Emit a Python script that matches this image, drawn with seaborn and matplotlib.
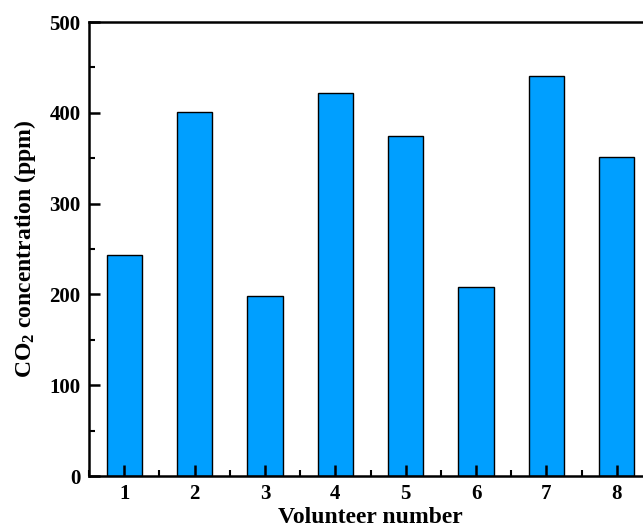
import matplotlib
matplotlib.use("Agg")
import matplotlib.pyplot as plt
import seaborn as sns
import pandas as pd
from matplotlib.ticker import MultipleLocator, FixedLocator

volunteers = ["1", "2", "3", "4", "5", "6", "7", "8"]
co2_ppm = [243, 401, 198, 422, 375, 208, 440, 351]

sns.set_theme(style="ticks")
plt.rcParams["font.family"] = ["Liberation Serif", "DejaVu Serif"]
plt.rcParams["font.weight"] = "bold"
plt.rcParams["text.color"] = "black"
plt.rcParams["axes.labelcolor"] = "black"
plt.rcParams["mathtext.fontset"] = "custom"
plt.rcParams["mathtext.rm"] = "Liberation Serif:bold"
plt.rcParams["mathtext.bf"] = "Liberation Serif:bold"
plt.rcParams["mathtext.default"] = "rm"

df = pd.DataFrame({"volunteer": volunteers, "co2": co2_ppm})

fig = plt.figure(figsize=(6.43, 5.32), dpi=100)
ax = fig.add_axes([89 / 643, 56 / 532, 563 / 643, 454 / 532])

sns.barplot(data=df, x="volunteer", y="co2", color="#009FFF", saturation=1,
            width=0.5, edgecolor="black", linewidth=1.0, ax=ax)
ax.set_axisbelow(False)

ax.set_xlim(-0.5, 7.5)
ax.set_ylim(0, 500)
ax.yaxis.set_major_locator(MultipleLocator(100))
ax.yaxis.set_minor_locator(MultipleLocator(50))
ax.xaxis.set_minor_locator(FixedLocator([i + 0.5 for i in range(-1, 8)]))

for side in ["left", "bottom", "top", "right"]:
    ax.spines[side].set_linewidth(1.8)
    ax.spines[side].set_color("black")

ax.tick_params(axis="both", which="major", direction="in", length=8, width=1.8,
               labelsize=15, colors="black", pad=6)
ax.tick_params(axis="both", which="minor", direction="in", length=4, width=1.5,
               colors="black")
ax.tick_params(top=False, right=False, which="both")
for lbl in ax.get_xticklabels() + ax.get_yticklabels():
    lbl.set_fontweight("bold")

ax.set_xlabel("Volunteer number", fontsize=17, fontweight="bold", labelpad=2,
              color="black")
ax.set_ylabel("CO$_2$ concentration (ppm)", fontsize=17, fontweight="bold",
              labelpad=8, color="black")

fig.savefig("out.png", dpi=100)
